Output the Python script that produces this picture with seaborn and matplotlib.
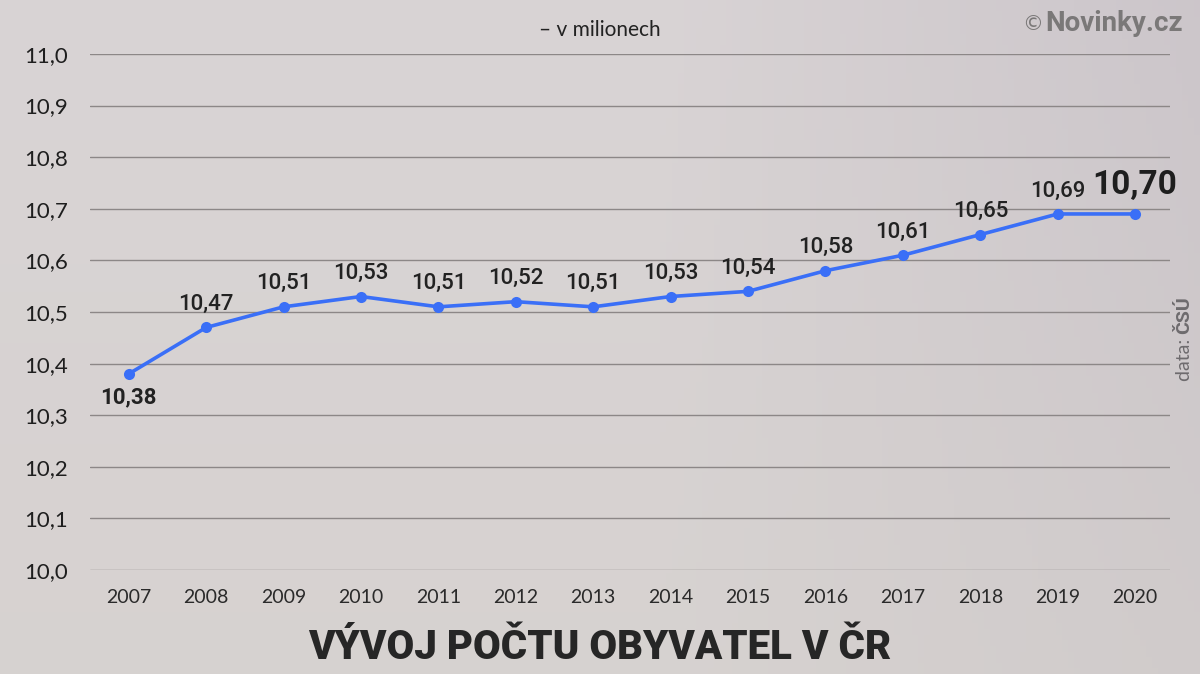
import matplotlib
matplotlib.use("Agg")
import matplotlib.pyplot as plt
import seaborn as sns
import numpy as np
import pandas as pd

years = [2007, 2008, 2009, 2010, 2011, 2012, 2013, 2014, 2015, 2016, 2017, 2018, 2019, 2020]
population = [10.38, 10.47, 10.51, 10.53, 10.51, 10.52, 10.51, 10.53, 10.54, 10.58, 10.61, 10.65, 10.69, 10.69]
labels = ["10,38", "10,47", "10,51", "10,53", "10,51", "10,52", "10,51", "10,53", "10,54",
          "10,58", "10,61", "10,65", "10,69", "10,70"]
yticks = [10.0, 10.1, 10.2, 10.3, 10.4, 10.5, 10.6, 10.7, 10.8, 10.9, 11.0]
ytick_labels = ["10,0", "10,1", "10,2", "10,3", "10,4", "10,5", "10,6", "10,7", "10,8", "10,9", "11,0"]

df = pd.DataFrame({"year": years, "pop": population})

sns.set_theme(style="white")
plt.rcParams['font.family'] = ['Lato', 'DejaVu Sans']

fig = plt.figure(figsize=(12, 6.74), dpi=100)
fig.patch.set_facecolor('#d6d1d2')

# subtle background gradient
bg = fig.add_axes([0, 0, 1, 1], zorder=-10)
gx = np.linspace(0, 1, 200)
gy = np.linspace(0, 1, 120)
GX, GY = np.meshgrid(gx, gy)
base = np.array([0.85, 0.83, 0.835])
right = np.array([0.795, 0.77, 0.79])
bottom = np.array([0.835, 0.82, 0.80])
w = np.clip((GX - 0.55) / 0.45, 0, 1)[..., None] * 0.9
b = np.clip(GY, 0, 1)[..., None] * 0.5
img = base * (1 - w) + right * w
img = img * (1 - b) + bottom * b
bg.imshow(img, aspect='auto', extent=[0, 1, 0, 1], origin='upper')
bg.axis('off')

ax = fig.add_axes([0.075, 0.1543, 0.9, 0.7656])
ax.set_facecolor('none')

sns.lineplot(data=df, x="year", y="pop", ax=ax, color='#3a6ff7', linewidth=2.6,
             marker='o', markersize=8, markeredgewidth=0, zorder=5)

ax.set_xlim(2006.5, 2020.45)
ax.set_ylim(10.0, 11.0)
ax.set_yticks(yticks)
ax.set_yticklabels(ytick_labels)
ax.set_xticks(years)
ax.set_xticklabels([str(y) for y in years])
ax.tick_params(axis='y', labelsize=16, labelcolor='#1e1e1e', length=0, pad=16)
ax.tick_params(axis='x', labelsize=14, labelcolor='#2a2a2a', length=0, pad=14)
for t in ax.get_yticklabels() + ax.get_xticklabels():
    t.set_fontweight('normal')
ax.grid(axis='y', color='#8c8787', linewidth=1.0)
ax.grid(axis='x', visible=False)
ax.set_axisbelow(True)
for s in ax.spines.values():
    s.set_visible(False)
ax.set_xlabel("")
ax.set_ylabel("")

for i, (x, y, lab) in enumerate(zip(years, population, labels)):
    if i == 0:
        ax.annotate(lab, (x, y), xytext=(0, -9), textcoords='offset points',
                    ha='center', va='top', fontsize=16, fontweight='bold', color='#222222',
                    family=['Roboto', 'DejaVu Sans'])
    elif i == len(years) - 1:
        ax.annotate(lab, (x, y), xytext=(0, 9), textcoords='offset points',
                    ha='center', va='bottom', fontsize=24, fontweight='bold', color='#1e1e1e',
                    family=['Roboto', 'DejaVu Sans'])
    else:
        ax.annotate(lab, (x, y), xytext=(0, 9), textcoords='offset points',
                    ha='center', va='bottom', fontsize=16, fontweight='medium', color='#222222',
                    family=['Roboto', 'DejaVu Sans'])

fig.text(0.5, 0.955, "– v milionech", ha='center', va='center', fontsize=15,
         fontweight='normal', color='#222222')
fig.text(0.5, 0.04, "VÝVOJ POČTU OBYVATEL V ČR", ha='center', va='center', fontsize=29,
         fontweight='heavy', color='#262626', family=['Roboto', 'DejaVu Sans'])

nov = fig.text(0.986, 0.965, "Novinky.cz", ha='right', va='center', fontsize=20,
               fontweight='bold', color='#7a7878', family=['Roboto', 'DejaVu Sans'])
fig.canvas.draw()
bb = nov.get_window_extent(renderer=fig.canvas.get_renderer())
x_left = bb.x0 / fig.bbox.width
fig.text(x_left - 0.002, 0.965, "©", ha='right', va='center', fontsize=15,
         color='#7a7878', family=['DejaVu Sans'])

fig.text(0.987, 0.505, "data: ", ha='center', va='top', rotation=90, fontsize=14,
         fontweight='normal', color='#6e6b6e')
fig.text(0.987, 0.505, "ČSÚ", ha='center', va='bottom', rotation=90, fontsize=14,
         fontweight='bold', color='#6e6b6e', family=['Roboto', 'DejaVu Sans'])

fig.savefig("out.png", dpi=100, facecolor=fig.get_facecolor())
